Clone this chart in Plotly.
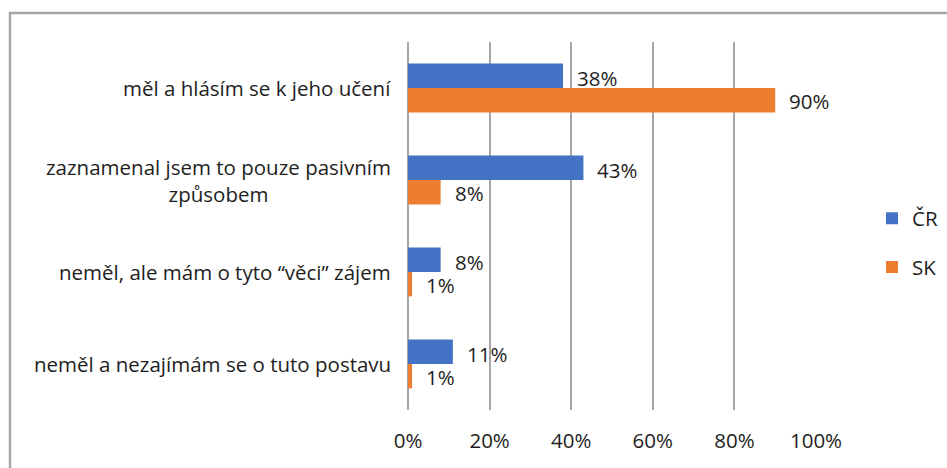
import plotly.graph_objects as go

categories = [
    "měl a hlásím se k jeho učení",
    "zaznamenal jsem to pouze pasivním<br>způsobem",
    "neměl, ale mám o tyto “věci” zájem",
    "neměl a nezajímám se o tuto postavu",
]
cr_values = [38, 43, 8, 11]
sk_values = [90, 8, 1, 1]
x_ticks = [0, 20, 40, 60, 80, 100]
x_tick_labels = ["0%", "20%", "40%", "60%", "80%", "100%"]

FONT = "Open Sans"
FS = 20.5
TXT = "#1e1e1e"
W, H = 947, 468
ML, MR, MT, MB = 408, 131, 42, 58
BARGAP = 0.47

fig = go.Figure()
fig.add_trace(go.Bar(
    y=categories, x=cr_values, orientation="h", name="ČR",
    marker=dict(color="#4472C4", line=dict(width=0)),
    legendgroup="a",
))
fig.add_trace(go.Bar(
    y=categories, x=sk_values, orientation="h", name="SK",
    marker=dict(color="#ED7D31", line=dict(width=0)),
    legendgroup="b",
))

pw = W - ML - MR
ph = H - MT - MB
cat_px = ph / len(categories)
bar_px = cat_px * (1 - BARGAP) / 2

# category labels (centered multi-line, right-anchored at the axis)
for c in categories:
    fig.add_annotation(
        x=0, xref="x domain", y=c, yref="y", text=c, showarrow=False,
        xanchor="right", align="center", xshift=-15,
        font=dict(family=FONT, size=FS, color=TXT),
    )

# value labels
for c, v in zip(categories, cr_values):
    fig.add_annotation(
        x=v, xref="x", y=c, yref="y", text=f"{v}%", showarrow=False,
        xanchor="left", xshift=12, yshift=bar_px / 2 - 2,
        font=dict(family=FONT, size=FS, color=TXT),
    )
for c, v in zip(categories, sk_values):
    fig.add_annotation(
        x=v, xref="x", y=c, yref="y", text=f"{v}%", showarrow=False,
        xanchor="left", xshift=12, yshift=-bar_px / 2 - 1,
        font=dict(family=FONT, size=FS, color=TXT),
    )

fig.add_shape(
    type="rect", xref="paper", yref="paper",
    x0=(10 - ML) / pw, x1=1.5, y0=-0.3, y1=1 + (MT - 13) / ph,
    line=dict(color="#A6A6A6", width=2.5), layer="below",
)

fig.update_layout(
    width=W, height=H,
    margin=dict(l=ML, r=MR, t=MT, b=MB, autoexpand=False),
    paper_bgcolor="white", plot_bgcolor="white",
    barmode="group", bargap=BARGAP, bargroupgap=0,
    font=dict(family=FONT, size=FS, color=TXT),
    showlegend=True,
    legend=dict(
        x=(872 - ML) / pw, xanchor="left",
        y=1 - (243 - MT) / ph, yanchor="middle",
        tracegroupgap=19, traceorder="grouped",
        font=dict(family=FONT, size=FS, color=TXT),
        itemwidth=30, bgcolor="rgba(0,0,0,0)",
    ),
    xaxis=dict(
        range=[0, 100], tickvals=x_ticks, ticktext=x_tick_labels,
        showgrid=True, gridcolor="#A6A6A6", gridwidth=1.5,
        zeroline=True, zerolinecolor="#A6A6A6", zerolinewidth=1.5,
        showline=False, ticks="", ticklabelstandoff=16,
        tickfont=dict(family=FONT, size=FS, color=TXT),
        fixedrange=True,
    ),
    yaxis=dict(
        autorange="reversed", showticklabels=False, showgrid=False,
        zeroline=False, showline=False, ticks="", fixedrange=True,
    ),
)

fig.write_html(
    "out.html",
    config={"displayModeBar": False},
    post_script="document.body.style.margin='0';document.body.style.overflow='hidden';",
)
